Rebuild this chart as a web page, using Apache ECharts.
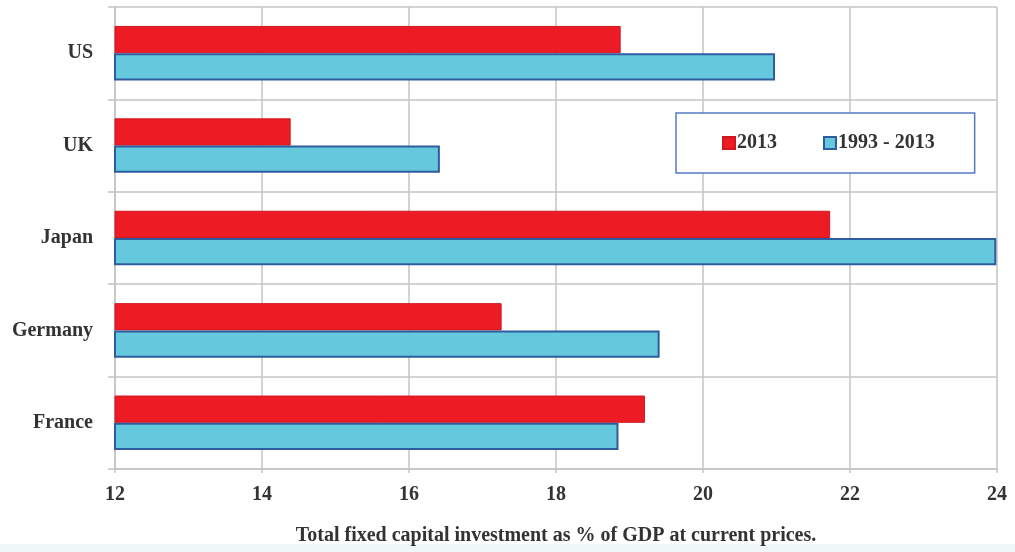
<!DOCTYPE html>
<html>
<head>
<meta charset="utf-8">
<title>Fixed capital investment</title>
<script src="https://cdn.jsdelivr.net/npm/echarts@6/dist/echarts.min.js"></script>
<style>
  html, body { margin: 0; padding: 0; background: #ffffff; }
  #chart { width: 1015px; height: 552px; }
</style>
</head>
<body>
<div id="chart"></div>
<script>
// Total fixed capital investment as % of GDP, by country
const categories = ['US', 'UK', 'Japan', 'Germany', 'France'];
const values2013 = [18.88, 14.39, 21.73, 17.26, 19.21];
const values1993to2013 = [20.98, 16.42, 23.99, 19.41, 18.85];
const seriesNames = ['2013', '1993 - 2013'];
const axisName = 'Total fixed capital investment as % of GDP at current prices.';

const FONT = '"Liberation Serif", "Times New Roman", serif';
const TEXT = '#333333';
const GRID = '#c4c4c4';

const chart = echarts.init(document.getElementById('chart'), null, { renderer: 'canvas' });

chart.setOption({
  backgroundColor: '#ffffff',
  animation: false,
  graphic: [{
    type: 'rect',
    left: 0, top: 544,
    shape: { width: 1015, height: 8 },
    style: { fill: '#eff8f7' },
    silent: true,
    z: -10
  }],
  grid: { left: 115, right: 18, top: 7, bottom: 83, containLabel: false },
  legend: {
    left: 676,
    top: 113,
    orient: 'horizontal',
    padding: [20, 40, 20, 46],
    itemGap: 46,
    itemWidth: 12,
    itemHeight: 12,
    backgroundColor: '#ffffff',
    borderColor: '#5479c2',
    borderWidth: 1.5,
    borderRadius: 0,
    textStyle: { fontFamily: FONT, fontWeight: 'bold', fontSize: 20, color: TEXT, padding: [0, 0, 0, -3] },
    data: [
      { name: seriesNames[0], icon: 'rect' },
      { name: seriesNames[1], icon: 'rect' }
    ]
  },
  xAxis: {
    type: 'value',
    min: 12,
    max: 24,
    interval: 2,
    name: axisName,
    nameLocation: 'middle',
    nameGap: 57,
    nameTextStyle: { fontFamily: FONT, fontWeight: 'bold', fontSize: 20, color: TEXT },
    axisLine: { show: true, lineStyle: { color: GRID, width: 1.5 } },
    axisTick: { show: true, length: 4, lineStyle: { color: GRID, width: 1.5 } },
    axisLabel: { fontFamily: FONT, fontWeight: 'bold', fontSize: 20, color: TEXT, margin: 16 },
    splitLine: { show: true, lineStyle: { color: GRID, width: 1.5 } }
  },
  yAxis: {
    type: 'category',
    inverse: true,
    data: categories,
    axisLine: { show: true, lineStyle: { color: GRID, width: 1.5 } },
    axisTick: { show: true, length: 7, lineStyle: { color: GRID, width: 1.5 } },
    axisLabel: { fontFamily: FONT, fontWeight: 'bold', fontSize: 20, color: TEXT, margin: 22 },
    splitLine: { show: true, lineStyle: { color: GRID, width: 1.5 } }
  },
  series: [
    {
      name: seriesNames[0],
      type: 'bar',
      data: values2013,
      barGap: '0%',
      barCategoryGap: '41%',
      itemStyle: { color: '#ed1c24', borderColor: '#d0161e', borderWidth: 1 }
    },
    {
      name: seriesNames[1],
      type: 'bar',
      data: values1993to2013,
      barGap: '0%',
      barCategoryGap: '41%',
      itemStyle: { color: '#66c8dc', borderColor: '#2f5c9f', borderWidth: 2 }
    }
  ]
});
</script>
</body>
</html>
